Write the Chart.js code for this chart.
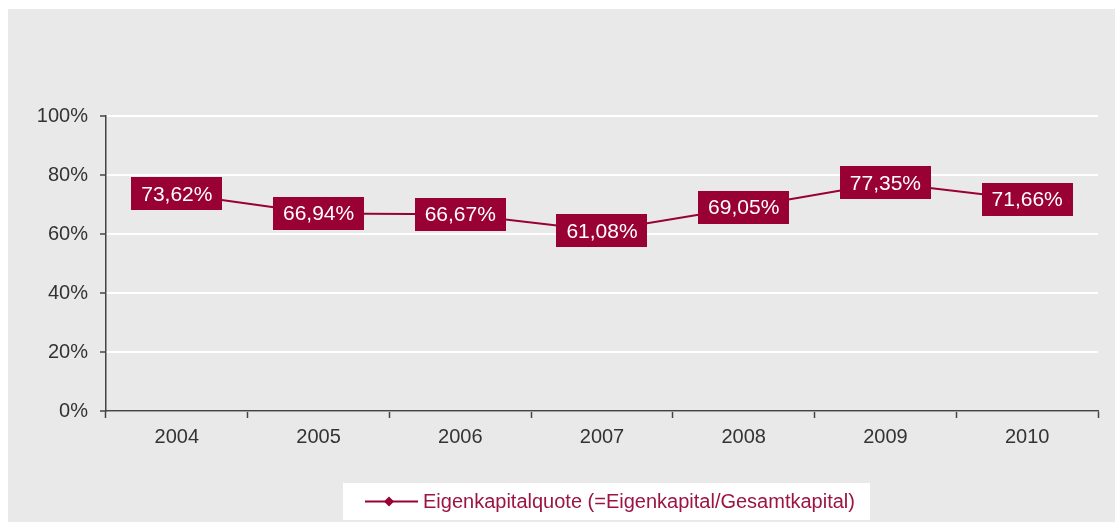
<!DOCTYPE html>
<html>
<head>
<meta charset="utf-8">
<script src="https://cdn.jsdelivr.net/npm/chart.js@4.4.1/dist/chart.umd.min.js"></script>
<style>
  html, body { margin: 0; padding: 0; background: #ffffff; }
  #wrap { position: absolute; left: 8px; top: 9px; width: 1107px; height: 513px; background: #e9e9e9; }
  canvas { display: block; }
</style>
</head>
<body>
<div id="wrap"><canvas id="c" width="1107" height="513"></canvas></div>
<script>
const categories = ["2004", "2005", "2006", "2007", "2008", "2009", "2010"];
const eigenkapitalquote = [73.62, 66.94, 66.67, 61.08, 69.05, 77.35, 71.66];
const yTickValues = [0, 20, 40, 60, 80, 100];
const seriesLabel = "Eigenkapitalquote (=Eigenkapital/Gesamtkapital)";

const MAROON = "#990033";
const FONT = "'Liberation Sans', Arial, sans-serif";

function fmt(v) { return v.toFixed(2).replace(".", ",") + "%"; }

const labelPlugin = {
  id: "boxLabels",
  afterDatasetsDraw(chart) {
    const ctx = chart.ctx;
    const meta = chart.getDatasetMeta(0);
    const data = chart.data.datasets[0].data;
    ctx.save();
    ctx.font = "21px " + FONT;
    ctx.textAlign = "center";
    ctx.textBaseline = "middle";
    meta.data.forEach((pt, i) => {
      const txt = fmt(data[i]);
      const w = ctx.measureText(txt).width + 20;
      const h = 33;
      ctx.fillStyle = MAROON;
      ctx.fillRect(Math.round(pt.x - w / 2), Math.round(pt.y - h / 2), Math.round(w), h);
      ctx.fillStyle = "#ffffff";
      ctx.fillText(txt, pt.x, pt.y + 1);
    });
    ctx.restore();
  }
};

const legendPlugin = {
  id: "boxLegend",
  afterDraw(chart) {
    const ctx = chart.ctx;
    const bx = 335, by = 474, bw = 527, bh = 37;
    ctx.save();
    ctx.fillStyle = "#ffffff";
    ctx.fillRect(bx, by, bw, bh);
    const cy = by + bh / 2;
    ctx.strokeStyle = MAROON;
    ctx.lineWidth = 2;
    ctx.beginPath();
    ctx.moveTo(357, cy);
    ctx.lineTo(410, cy);
    ctx.stroke();
    ctx.fillStyle = MAROON;
    ctx.beginPath();
    ctx.moveTo(381, cy - 5);
    ctx.lineTo(386, cy);
    ctx.lineTo(381, cy + 5);
    ctx.lineTo(376, cy);
    ctx.closePath();
    ctx.fill();
    ctx.font = "20px " + FONT;
    ctx.textAlign = "left";
    ctx.textBaseline = "middle";
    ctx.fillStyle = "#9b1444";
    ctx.fillText(chart.data.datasets[0].label, 415, cy + 1);
    ctx.restore();
  }
};

new Chart(document.getElementById("c"), {
  type: "line",
  data: {
    labels: categories,
    datasets: [{
      label: seriesLabel,
      data: eigenkapitalquote,
      borderColor: MAROON,
      backgroundColor: MAROON,
      borderWidth: 2,
      pointStyle: "rectRot",
      pointRadius: 4,
      tension: 0
    }]
  },
  options: {
    responsive: false,
    animation: false,
    layout: { padding: { top: 107, right: 17, left: 0, bottom: 0 } },
    plugins: { legend: { display: false }, tooltip: { enabled: false } },
    scales: {
      x: {
        offset: true,
        grid: { offset: true, drawOnChartArea: false, tickLength: 7, tickColor: "#444", tickWidth: 1.5 },
        border: { color: "#444", width: 1.5 },
        ticks: { color: "#333", font: { family: FONT, size: 20 }, padding: 7 },
        afterFit(s) { s.height = 111; }
      },
      y: {
        min: 0, max: 100,
        afterBuildTicks(s) { s.ticks = yTickValues.map(v => ({ value: v })); },
        grid: { color: "#ffffff", lineWidth: 2, tickLength: 6, tickColor: "#444", tickWidth: 1.5 },
        border: { color: "#444", width: 1.5 },
        ticks: { color: "#333", font: { family: FONT, size: 20 }, padding: 12, callback: v => v + "%" },
        afterFit(s) { s.width = 98; }
      }
    }
  },
  plugins: [labelPlugin, legendPlugin]
});
</script>
</body>
</html>
